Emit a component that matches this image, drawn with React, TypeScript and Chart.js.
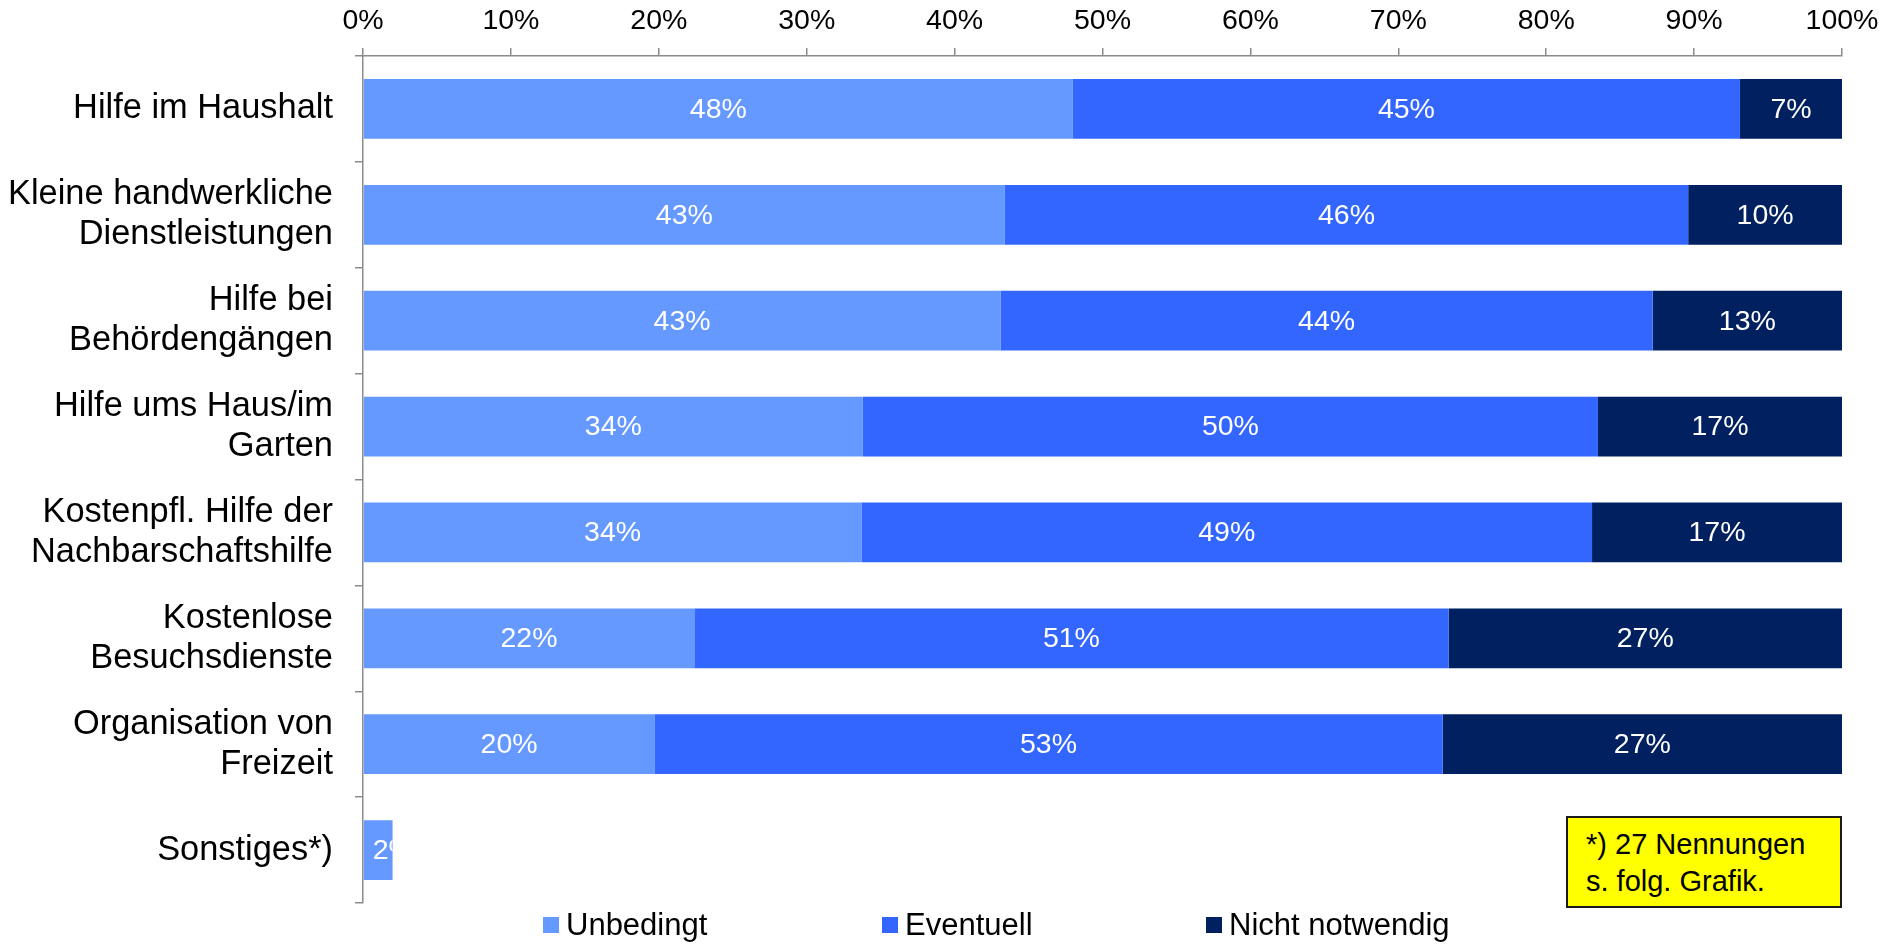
import React, { useEffect, useRef } from "react";
import { Chart, registerables } from "chart.js";

Chart.register(...registerables);

const categories: string[][] = [
  ["Hilfe im Haushalt"],
  ["Kleine handwerkliche", "Dienstleistungen"],
  ["Hilfe bei", "Behördengängen"],
  ["Hilfe ums Haus/im", "Garten"],
  ["Kostenpfl. Hilfe der", "Nachbarschaftshilfe"],
  ["Kostenlose", "Besuchsdienste"],
  ["Organisation von", "Freizeit"],
  ["Sonstiges*)"],
];

const unbedingt = [48.0, 43.4, 43.1, 33.8, 33.7, 22.4, 19.7, 2.0];
const eventuell = [45.1, 46.2, 44.1, 49.7, 49.4, 51.0, 53.3, null];
const nichtNotwendig = [6.9, 10.4, 12.8, 16.5, 16.9, 26.6, 27.0, null];

const seriesNames = ["Unbedingt", "Eventuell", "Nicht notwendig"];
const seriesColors = ["#6699FF", "#3366FF", "#002060"];

const xTickValues = [0, 10, 20, 30, 40, 50, 60, 70, 80, 90, 100];

const noteLines = ["*) 27 Nennungen", "s. folg. Grafik."];

const FONT = '"Liberation Sans", Arial, Helvetica, sans-serif';

const barLabelPlugin = {
  id: "barLabels",
  afterDatasetsDraw(chart: any) {
    const ctx = chart.ctx;
    ctx.save();
    ctx.font = `28.5px ${FONT}`;
    ctx.fillStyle = "#FFFFFF";
    ctx.textBaseline = "middle";
    chart.data.datasets.forEach((ds: any, di: number) => {
      const meta = chart.getDatasetMeta(di);
      meta.data.forEach((el: any, i: number) => {
        const v = ds.data[i];
        if (v == null || v <= 0) return;
        const { x, base, y, height } = el.getProps(["x", "base", "y", "height"], true);
        const left = Math.min(x, base);
        const w = Math.abs(x - base);
        const text = Math.round(v) + "%";
        const tw = ctx.measureText(text).width;
        ctx.save();
        ctx.beginPath();
        ctx.rect(left, y - height / 2, w, height);
        ctx.clip();
        if (tw > w - 4) {
          ctx.textAlign = "left";
          ctx.fillText(text, left + 9, y + 1);
        } else {
          ctx.textAlign = "center";
          ctx.fillText(text, left + w / 2, y + 1);
        }
        ctx.restore();
      });
    });
    ctx.restore();
  },
};

export default function App() {
  const canvasRef = useRef<HTMLCanvasElement | null>(null);

  useEffect(() => {
    if (!canvasRef.current) return;
    const chart = new Chart(canvasRef.current, {
      type: "bar",
      data: {
        labels: categories,
        datasets: [
          { label: seriesNames[0], data: unbedingt, backgroundColor: seriesColors[0] },
          { label: seriesNames[1], data: eventuell, backgroundColor: seriesColors[1] },
          { label: seriesNames[2], data: nichtNotwendig, backgroundColor: seriesColors[2] },
        ],
      },
      options: {
        indexAxis: "y",
        responsive: false,
        animation: false,
        layout: { padding: { left: 0, top: 0, right: 37, bottom: 43 } },
        datasets: {
          bar: { categoryPercentage: 1, barPercentage: 0.565, borderWidth: 0 },
        },
        plugins: {
          legend: { display: false },
          tooltip: { enabled: false },
          title: { display: false },
        },
        scales: {
          x: {
            position: "top",
            stacked: true,
            min: 0,
            max: 100,
            afterBuildTicks(scale: any) {
              scale.ticks = xTickValues.map((v) => ({ value: v }));
            },
            afterFit(scale: any) {
              scale.height = 56;
              scale.paddingLeft = 0;
              scale.paddingRight = 0;
            },
            ticks: {
              callback: (v: any) => v + "%",
              color: "#000000",
              padding: 13,
              font: { family: FONT, size: 28.5, lineHeight: 1 },
              maxRotation: 0,
              autoSkip: false,
            },
            grid: {
              display: true,
              drawOnChartArea: false,
              drawTicks: true,
              tickLength: 8,
              color: "#8c8c8c",
              lineWidth: 1.5,
            },
            border: { display: true, color: "#8c8c8c", width: 1.5 },
          },
          y: {
            stacked: true,
            afterFit(scale: any) {
              scale.width = 363;
              scale.paddingTop = 0;
              scale.paddingBottom = 0;
            },
            ticks: {
              color: "#000000",
              padding: 22,
              autoSkip: false,
              font: { family: FONT, size: 34.4, lineHeight: 1.16 },
            },
            grid: {
              display: true,
              offset: true,
              drawOnChartArea: false,
              drawTicks: true,
              tickLength: 8,
              color: "#8c8c8c",
              lineWidth: 1.5,
            },
            border: { display: true, color: "#8c8c8c", width: 1.5 },
          },
        },
      },
      plugins: [barLabelPlugin],
    });
    return () => chart.destroy();
  }, []);

  const legendLefts = [543, 882, 1206];

  return (
    <div
      style={{
        position: "fixed",
        left: 0,
        top: 0,
        width: 1879,
        height: 946,
        overflow: "hidden",
        background: "#FFFFFF",
        fontFamily: FONT,
      }}
    >
      <canvas ref={canvasRef} width={1879} height={946} style={{ display: "block", width: 1879, height: 946 }} />
      {seriesNames.map((name, i) => (
        <div
          key={name}
          style={{
            position: "absolute",
            left: legendLefts[i],
            top: 909,
            height: 32,
            display: "flex",
            alignItems: "center",
            fontSize: 31,
            lineHeight: "32px",
            color: "#000000",
            whiteSpace: "nowrap",
          }}
        >
          <span
            style={{
              display: "inline-block",
              width: 16,
              height: 16,
              background: seriesColors[i],
              marginRight: 7,
            }}
          />
          <span>{name}</span>
        </div>
      ))}
      <div
        style={{
          position: "absolute",
          left: 1566,
          top: 816,
          width: 276,
          height: 92,
          boxSizing: "border-box",
          background: "#FFFF00",
          border: "2px solid #1a1a1a",
          paddingLeft: 18,
          paddingTop: 8,
          fontSize: 29,
          lineHeight: "37px",
          color: "#000000",
          whiteSpace: "nowrap",
        }}
      >
        {noteLines.map((l) => (
          <div key={l}>{l}</div>
        ))}
      </div>
    </div>
  );
}
